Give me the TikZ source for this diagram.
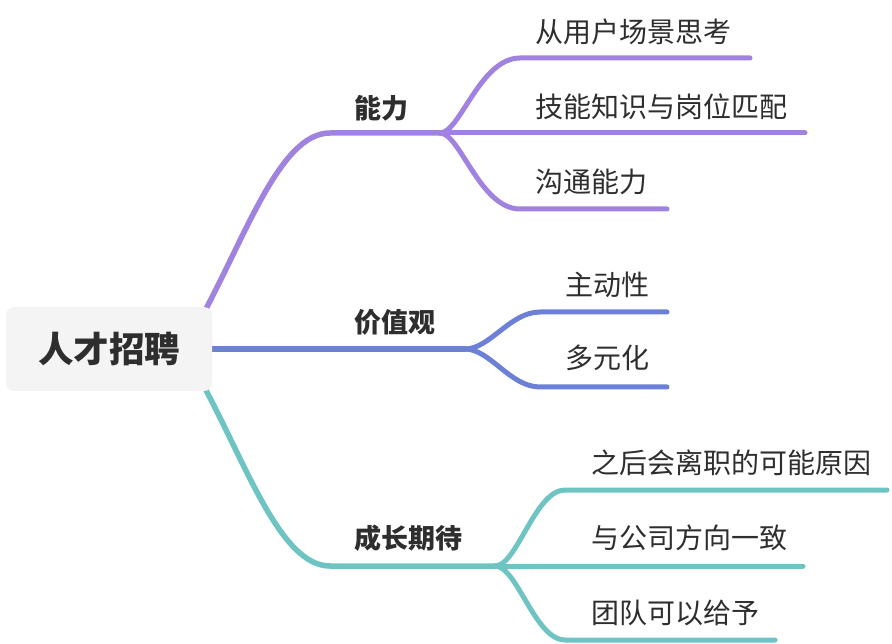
\documentclass[tikz,border=0pt]{standalone}
\usepackage{fontspec}
\newfontfamily\cjk{Noto Sans CJK SC}
\usetikzlibrary{backgrounds}
\definecolor{cpurple}{HTML}{A083E0}
\definecolor{cblue}{HTML}{6D80D8}
\definecolor{cteal}{HTML}{6EC4C3}
\definecolor{ctext}{HTML}{2E2E2E}
\definecolor{crootfill}{HTML}{F4F4F4}
\begin{document}
\begin{tikzpicture}[x=1pt,y=-1pt,
  rootbox/.style={fill=crootfill, rounded corners=8pt, minimum width=206pt, minimum height=84pt, inner sep=0pt, text=ctext, font=\cjk\bfseries\fontsize{35.5}{40}\selectfont},
  lbl/.style={anchor=west, inner sep=0pt, text=ctext, font=\cjk\bfseries\fontsize{27}{30}\selectfont},
  leaf/.style={anchor=west, inner sep=0pt, text=ctext, font=\cjk\fontsize{28}{32}\selectfont},
  mainp/.style={draw=cpurple, line width=5.5pt, line cap=round},
  mainb/.style={draw=cblue, line width=5.5pt, line cap=round},
  maint/.style={draw=cteal, line width=5.5pt, line cap=round},
  subp/.style={draw=cpurple, line width=5pt, line cap=round},
  subb/.style={draw=cblue, line width=5pt, line cap=round},
  subt/.style={draw=cteal, line width=5pt, line cap=round}]
\useasboundingbox (0,0) rectangle (892,644);

% root
\node[rootbox] (root) at (109,349) {人才招聘};

% coordinates
\coordinate (ps) at (200,320);
\coordinate (pb) at (330,133);
\coordinate (pf) at (440,133);
\coordinate (p1a) at (520,58);
\coordinate (p1e) at (750,58);
\coordinate (p2e) at (805,133);
\coordinate (p3a) at (520,209);
\coordinate (p3e) at (667,209);

\coordinate (bf) at (465,349);
\coordinate (b1a) at (540,312);
\coordinate (b1e) at (667,312);
\coordinate (b2a) at (540,387);
\coordinate (b2e) at (667,387);

\coordinate (ts) at (200,379);
\coordinate (tb) at (330,566);
\coordinate (tf) at (495,566);
\coordinate (t1a) at (565,490);
\coordinate (t1e) at (887,490);
\coordinate (t2e) at (803,566);
\coordinate (t3a) at (565,640);
\coordinate (t3e) at (775,640);

\begin{scope}[on background layer]
\fill[white] (0,0) rectangle (892,644);
% purple
\draw[mainp] (ps) .. controls (246,236) and (280,133) .. (pb) -- (pf);
\draw[subp] (pf) .. controls (460,133) and (480,58) .. (p1a) -- (p1e);
\draw[subp] (pf) -- (p2e);
\draw[subp] (pf) .. controls (460,133) and (480,209) .. (p3a) -- (p3e);
% blue
\draw[mainb] (root.east) -- (bf);
\draw[subb] (bf) .. controls (490,349) and (510,312) .. (b1a) -- (b1e);
\draw[subb] (bf) .. controls (490,349) and (510,387) .. (b2a) -- (b2e);
% teal
\draw[maint] (ts) .. controls (246,463) and (280,566) .. (tb) -- (tf);
\draw[subt] (tf) .. controls (517,566) and (535,490) .. (t1a) -- (t1e);
\draw[subt] (tf) -- (t2e);
\draw[subt] (tf) .. controls (517,566) and (535,640) .. (t3a) -- (t3e);
\end{scope}

% labels
\node[lbl] (l1) at (354,108) {能力};
\node[lbl] (l2) at (354,322) {价值观};
\node[lbl] (l3) at (354,538) {成长期待};

\node[leaf] (a1) at (535,32) {从用户场景思考};
\node[leaf] (a2) at (535,107) {技能知识与岗位匹配};
\node[leaf] (a3) at (535,182) {沟通能力};

\node[leaf] (b1) at (565,285) {主动性};
\node[leaf] (b2) at (565,358) {多元化};

\node[leaf] (c1) at (591,463) {之后会离职的可能原因};
\node[leaf] (c2) at (591,538) {与公司方向一致};
\node[leaf] (c3) at (591,613) {团队可以给予};
\end{tikzpicture}
\end{document}
